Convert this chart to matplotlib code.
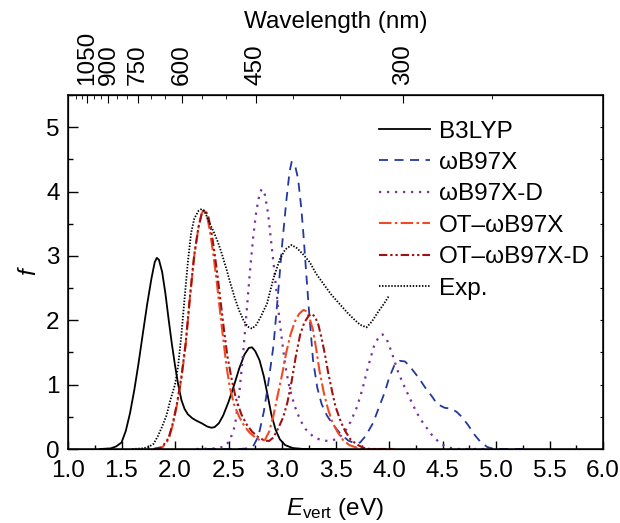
import numpy as np
import matplotlib
matplotlib.use("Agg")
import matplotlib.pyplot as plt
from matplotlib.ticker import MultipleLocator, FixedLocator, NullFormatter

plt.rcParams['font.family'] = ['Liberation Sans', 'DejaVu Sans']
plt.rcParams['mathtext.fontset'] = 'custom'
plt.rcParams['mathtext.rm'] = 'Liberation Sans'
plt.rcParams['mathtext.it'] = 'Liberation Sans:italic'
FS = 17.5

# ---------------- data ----------------
b3lyp_E = [1.30, 1.40, 1.45, 1.50, 1.54, 1.58, 1.62, 1.66, 1.70, 1.74, 1.78, 1.81, 1.83, 1.85, 1.88,
           1.91, 1.94, 1.97, 2.00, 2.03, 2.06, 2.09, 2.12, 2.16, 2.20, 2.25, 2.30, 2.34, 2.37, 2.41,
           2.45, 2.50, 2.55, 2.60, 2.65, 2.69, 2.72, 2.75, 2.79, 2.83, 2.87, 2.90, 2.94, 2.98, 3.03,
           3.10, 3.20, 3.50]
b3lyp_f = [0.0, 0.01, 0.04, 0.10, 0.28, 0.56, 0.92, 1.34, 1.80, 2.25, 2.65, 2.90, 2.97, 2.94, 2.75,
           2.42, 2.02, 1.64, 1.30, 1.00, 0.76, 0.62, 0.54, 0.48, 0.44, 0.40, 0.35, 0.33, 0.34, 0.40,
           0.52, 0.73, 0.98, 1.25, 1.47, 1.57, 1.58, 1.52, 1.38, 1.13, 0.80, 0.54, 0.30, 0.15, 0.06,
           0.015, 0.0, 0.0]

wb97x_E = [2.30, 2.60, 2.68, 2.73, 2.78, 2.83, 2.87, 2.92, 2.96, 3.00, 3.04, 3.07, 3.09, 3.12, 3.15,
           3.18, 3.20, 3.23, 3.25, 3.29, 3.33, 3.37, 3.42, 3.48, 3.55, 3.62, 3.68, 3.73, 3.78, 3.85,
           3.90, 3.96, 4.00, 4.05, 4.10, 4.15, 4.21, 4.28, 4.34, 4.40, 4.45, 4.52, 4.57, 4.63, 4.68,
           4.74, 4.80, 4.86, 4.92, 4.98, 5.30]
wb97x_f = [0.0, 0.0, 0.01, 0.04, 0.20, 0.58, 1.00, 1.60, 2.35, 3.15, 3.85, 4.30, 4.46, 4.42, 4.20,
           3.75, 3.34, 2.65, 2.20, 1.38, 0.95, 0.70, 0.52, 0.37, 0.23, 0.13, 0.09, 0.10, 0.20, 0.40,
           0.62, 0.88, 1.10, 1.30, 1.37, 1.36, 1.25, 1.10, 0.95, 0.82, 0.70, 0.64, 0.63, 0.58, 0.50,
           0.37, 0.22, 0.10, 0.03, 0.0, 0.0]

wb97xd_E = [2.20, 2.40, 2.46, 2.51, 2.56, 2.60, 2.64, 2.67, 2.70, 2.73, 2.76, 2.79, 2.81, 2.84, 2.87,
            2.90, 2.93, 2.96, 2.99, 3.03, 3.07, 3.12, 3.17, 3.22, 3.30, 3.38, 3.45, 3.52, 3.58, 3.64,
            3.70, 3.75, 3.80, 3.86, 3.91, 3.94, 3.98, 4.03, 4.08, 4.13, 4.20, 4.26, 4.32, 4.40, 4.47,
            4.54, 4.62, 4.90]
wb97xd_f = [0.0, 0.01, 0.04, 0.12, 0.36, 0.85, 1.55, 2.15, 2.75, 3.28, 3.70, 3.96, 4.04, 3.95, 3.66,
            3.20, 2.75, 2.25, 1.82, 1.30, 0.95, 0.66, 0.45, 0.31, 0.18, 0.13, 0.125, 0.16, 0.25, 0.42,
            0.65, 0.92, 1.25, 1.60, 1.76, 1.78, 1.70, 1.48, 1.22, 1.02, 0.77, 0.56, 0.40, 0.22, 0.10,
            0.03, 0.0, 0.0]

ot_E = [1.80, 1.88, 1.94, 1.98, 2.02, 2.06, 2.10, 2.14, 2.18, 2.22, 2.25, 2.27, 2.30, 2.33, 2.36,
        2.39, 2.42, 2.45, 2.48, 2.51, 2.55, 2.60, 2.65, 2.70, 2.75, 2.80, 2.84, 2.88, 2.92, 2.96,
        3.00, 3.04, 3.08, 3.12, 3.16, 3.20, 3.23, 3.26, 3.29, 3.32, 3.35, 3.39, 3.43, 3.47, 3.52,
        3.57, 3.63, 3.70, 3.78, 4.05]
ot_f = [0.0, 0.02, 0.15, 0.38, 0.70, 1.10, 1.62, 2.35, 3.00, 3.45, 3.66, 3.72, 3.62, 3.35, 3.00,
        2.60, 2.15, 1.72, 1.30, 0.98, 0.70, 0.50, 0.35, 0.25, 0.18, 0.13, 0.14, 0.27, 0.52, 0.84,
        1.15, 1.50, 1.78, 1.98, 2.10, 2.16, 2.14, 2.02, 1.85, 1.55, 1.22, 0.88, 0.62, 0.42, 0.26,
        0.14, 0.06, 0.02, 0.0, 0.0]

otd_E = [1.80, 1.88, 1.94, 1.98, 2.02, 2.06, 2.10, 2.14, 2.18, 2.22, 2.25, 2.28, 2.31, 2.34, 2.37,
         2.40, 2.43, 2.46, 2.49, 2.53, 2.57, 2.62, 2.67, 2.72, 2.78, 2.84, 2.88, 2.92, 2.97, 3.01,
         3.05, 3.09, 3.13, 3.17, 3.21, 3.25, 3.28, 3.31, 3.34, 3.37, 3.40, 3.43, 3.47, 3.50, 3.55,
         3.59, 3.64, 3.70, 3.76, 3.82, 4.05]
otd_f = [0.0, 0.03, 0.17, 0.40, 0.72, 1.12, 1.65, 2.38, 3.02, 3.45, 3.66, 3.72, 3.62, 3.38, 3.04,
         2.66, 2.24, 1.82, 1.44, 1.08, 0.78, 0.54, 0.38, 0.27, 0.18, 0.13, 0.125, 0.18, 0.34, 0.49,
         0.72, 1.05, 1.45, 1.78, 1.97, 2.07, 2.10, 2.05, 1.93, 1.72, 1.48, 1.20, 0.88, 0.66, 0.42,
         0.28, 0.15, 0.07, 0.02, 0.0, 0.0]

exp_E = [1.60, 1.70, 1.75, 1.80, 1.84, 1.88, 1.92, 1.96, 2.00, 2.03, 2.06, 2.09, 2.12, 2.15, 2.18,
         2.22, 2.25, 2.28, 2.32, 2.36, 2.40, 2.44, 2.48, 2.52, 2.56, 2.60, 2.64, 2.68, 2.72, 2.76,
         2.80, 2.86, 2.92, 2.98, 3.03, 3.09, 3.14, 3.20, 3.26, 3.32, 3.39, 3.46, 3.54, 3.61, 3.67,
         3.73, 3.79, 3.84, 3.89, 3.95, 4.00]
exp_f = [0.0, 0.01, 0.03, 0.08, 0.20, 0.35, 0.52, 0.78, 1.00, 1.30, 1.78, 2.35, 2.90, 3.35, 3.58,
         3.70, 3.73, 3.68, 3.52, 3.38, 3.22, 3.02, 2.80, 2.56, 2.34, 2.15, 2.00, 1.90, 1.87, 1.93,
         2.05, 2.26, 2.65, 2.95, 3.10, 3.17, 3.12, 3.02, 2.90, 2.72, 2.56, 2.40, 2.25, 2.12, 2.02,
         1.93, 1.89, 1.98, 2.11, 2.25, 2.38]

labels = ['B3LYP', 'ωB97X', 'ωB97X-D', 'OT–ωB97X', 'OT–ωB97X-D', 'Exp.']

wl_major = [1050, 900, 750, 600, 450, 300]
wl_minor = [1150, 1100, 1000, 950, 850, 800, 700, 650, 550, 500, 400, 350, 250]

# ---------------- figure ----------------
fig = plt.figure(figsize=(6.2, 5.23), dpi=100)
ax = fig.add_axes([68/620, (523-449)/523, 535/620, 354/523])

lw = 1.3
ax.plot(b3lyp_E, b3lyp_f, color='black', lw=lw, label=labels[0])
ax.plot(wb97x_E, wb97x_f, color='#22399b', lw=lw, ls=(0, (5.0, 3.6)), label=labels[1])
ax.plot(wb97xd_E, wb97xd_f, color='#7a2f9e', lw=lw+0.3, ls=(0, (1.0, 2.6)), label=labels[2])
ax.plot(ot_E, ot_f, color='#f04a22', lw=lw+0.2, ls=(0, (6.0, 1.6, 1.2, 1.6)), label=labels[3])
ax.plot(otd_E, otd_f, color='#a01212', lw=lw+0.2, ls=(0, (4.0, 1.4, 1.1, 1.4, 1.1, 1.4)), label=labels[4])
ax.plot(exp_E, exp_f, color='black', lw=lw, ls=(0, (0.8, 0.9)), label=labels[5])

ax.set_xlim(1.0, 6.0)
ax.set_ylim(0, 5.5)
ax.xaxis.set_major_locator(MultipleLocator(0.5))
ax.xaxis.set_minor_locator(MultipleLocator(0.25))
ax.yaxis.set_major_locator(MultipleLocator(1))
ax.yaxis.set_minor_locator(MultipleLocator(0.5))
ax.xaxis.set_major_formatter(plt.FuncFormatter(lambda v, p: f'{v:.1f}'))
ax.yaxis.set_major_formatter(plt.FuncFormatter(lambda v, p: f'{v:.0f}'))
ax.tick_params(axis='both', which='both', direction='in', labelsize=FS, width=1.0)
ax.tick_params(axis='x', which='major', length=6, pad=8)
ax.tick_params(axis='x', which='minor', length=3)
ax.tick_params(axis='y', which='major', length=7, pad=6)
ax.tick_params(axis='y', which='minor', length=3.5)
for s in ax.spines.values():
    s.set_linewidth(1.1)

# right axis ticks
axr = ax.twinx()
axr.set_ylim(0, 5.5)
axr.yaxis.set_major_locator(MultipleLocator(0.5))
axr.yaxis.set_major_formatter(NullFormatter())
axr.tick_params(axis='y', which='both', direction='in', length=2.5)

# top wavelength axis
axt = ax.twiny()
axt.set_xlim(1.0, 6.0)
axt.xaxis.set_major_locator(FixedLocator([1240.0/w for w in wl_major]))
axt.set_xticklabels([str(w) for w in wl_major], rotation=90, fontsize=FS)
axt.xaxis.set_minor_locator(FixedLocator([1240.0/w for w in wl_minor]))
axt.tick_params(axis='x', which='both', direction='in', pad=7)
axt.tick_params(axis='x', which='major', length=6)
axt.tick_params(axis='x', which='minor', length=3)
axt.set_xlabel('Wavelength (nm)', fontsize=FS, labelpad=2)

ax.set_xlabel(r'$E_{\mathrm{vert}}$ (eV)', fontsize=FS, labelpad=10)
ax.set_ylabel('f', fontsize=FS, style='italic', labelpad=4)

leg = ax.legend(loc='upper left', bbox_to_anchor=(0.582, 0.928), frameon=False,
                fontsize=FS, handlelength=2.1, handletextpad=0.35, labelspacing=0.39,
                borderpad=0, borderaxespad=0)

fig.savefig('out.png', dpi=100)
